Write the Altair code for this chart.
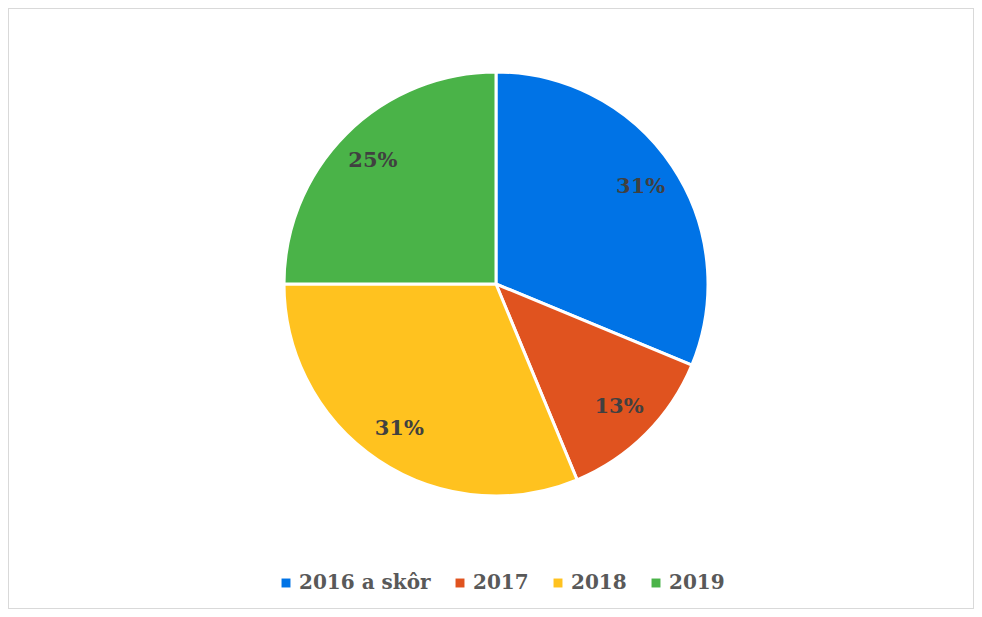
import altair as alt
import pandas as pd

categories = ["2016 a skôr", "2017", "2018", "2019"]
counts = [5, 2, 5, 4]
labels = ["31%", "13%", "31%", "25%"]
colors = ["#0073E6", "#E0531F", "#FFC21F", "#4AB348"]

df = pd.DataFrame({"cat": categories, "value": counts, "label": labels,
                   "order": list(range(len(categories)))})

CX, CY, R = 488, 276, 212

base = alt.Chart(df).encode(
    theta=alt.Theta("value:Q", stack=True),
    order=alt.Order("order:Q"),
)

pie = base.mark_arc(radius=R, stroke="white", strokeWidth=3).encode(
    x=alt.value(CX), y=alt.value(CY),
    color=alt.Color("cat:N", scale=alt.Scale(domain=categories, range=colors),
                    sort=categories,
                    legend=alt.Legend(title=None, orient="none", direction="horizontal",
                                      legendX=268, legendY=565,
                                      symbolType="square", symbolSize=80,
                                      symbolStrokeWidth=0,
                                      labelFont="DejaVu Serif", labelFontWeight="bold",
                                      labelFontSize=20, labelColor="#595959",
                                      labelOffset=3, columnPadding=19,
                                      labelLimit=300)),
)

text = base.mark_text(radius=174, font="DejaVu Serif", fontWeight="bold",
                      fontSize=21, color="#404040").encode(
    x=alt.value(CX), y=alt.value(CY),
    text="label:N",
)

chart = (pie + text).properties(
    width=966, height=601, padding=0,
    autosize=alt.AutoSizeParams(type="none"),
).configure_view(stroke="#D9D9D9", strokeWidth=2, fill="white")

chart.save("out.html", embed_options={"renderer": "svg", "actions": False})
